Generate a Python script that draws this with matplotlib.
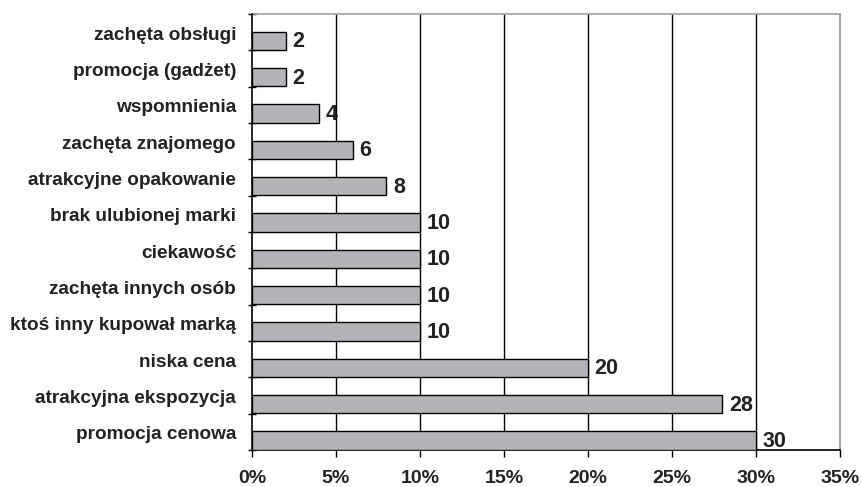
import matplotlib
matplotlib.use("Agg")
import matplotlib.pyplot as plt
import numpy as np

categories = ["promocja cenowa", "atrakcyjna ekspozycja", "niska cena",
              "ktoś inny kupował marką", "zachęta innych osób", "ciekawość",
              "brak ulubionej marki", "atrakcyjne opakowanie", "zachęta znajomego",
              "wspomnienia", "promocja (gadżet)", "zachęta obsługi"]
values = [30, 28, 20, 10, 10, 10, 10, 8, 6, 4, 2, 2]
xticks = [0, 5, 10, 15, 20, 25, 30, 35]
xtick_labels = ["0%", "5%", "10%", "15%", "20%", "25%", "30%", "35%"]

plt.rcParams['font.family'] = ['Liberation Sans', 'DejaVu Sans']
plt.rcParams['font.weight'] = 'bold'

fig = plt.figure(figsize=(8.61, 4.87), dpi=100)
ax = fig.add_axes([252/861, 1 - 450/487, (840-252)/861, (450-14)/487])

n = len(categories)
pos = np.arange(n)
offset = -0.24
ax.barh(pos + offset, values, height=0.51, color="#b4b4b8", edgecolor="black",
        linewidth=1.0, zorder=3)
for p, v in zip(pos, values):
    ax.text(v + 0.4, p + offset - 0.03, str(v), va="center", ha="left",
            fontsize=15.5, fontweight="bold", color="#222222", zorder=4)

ax.set_xlim(0, 35)
ax.set_ylim(-0.5, n - 0.5)
ax.set_xticks(xticks)
ax.set_xticklabels(xtick_labels, fontsize=14, fontweight="bold", color="#222222")
ax.set_yticks(np.arange(n + 1) - 0.5)
ax.set_yticklabels([])
ax.set_yticks(pos - 0.03, minor=True)
ax.set_yticklabels(categories, minor=True, fontsize=13.7, fontweight="bold", color="#222222")
ax.tick_params(axis="y", which="minor", length=0, pad=11.5)
ax.tick_params(axis="y", which="major", length=6, width=1, direction="inout", color="black")
ax.tick_params(axis="x", length=5, width=1, direction="out", pad=9.5, color="black")

for x in xticks[1:-1]:
    ax.axvline(x, color="black", linewidth=1.0, zorder=1)

ax.spines["left"].set_color("black")
ax.spines["bottom"].set_color("black")
ax.spines["top"].set_color("#a0a0a0")
ax.spines["right"].set_color("#909090")
for s in ax.spines.values():
    s.set_linewidth(1.2)
ax.spines["left"].set_zorder(5)

fig.savefig("out.png", dpi=100)
